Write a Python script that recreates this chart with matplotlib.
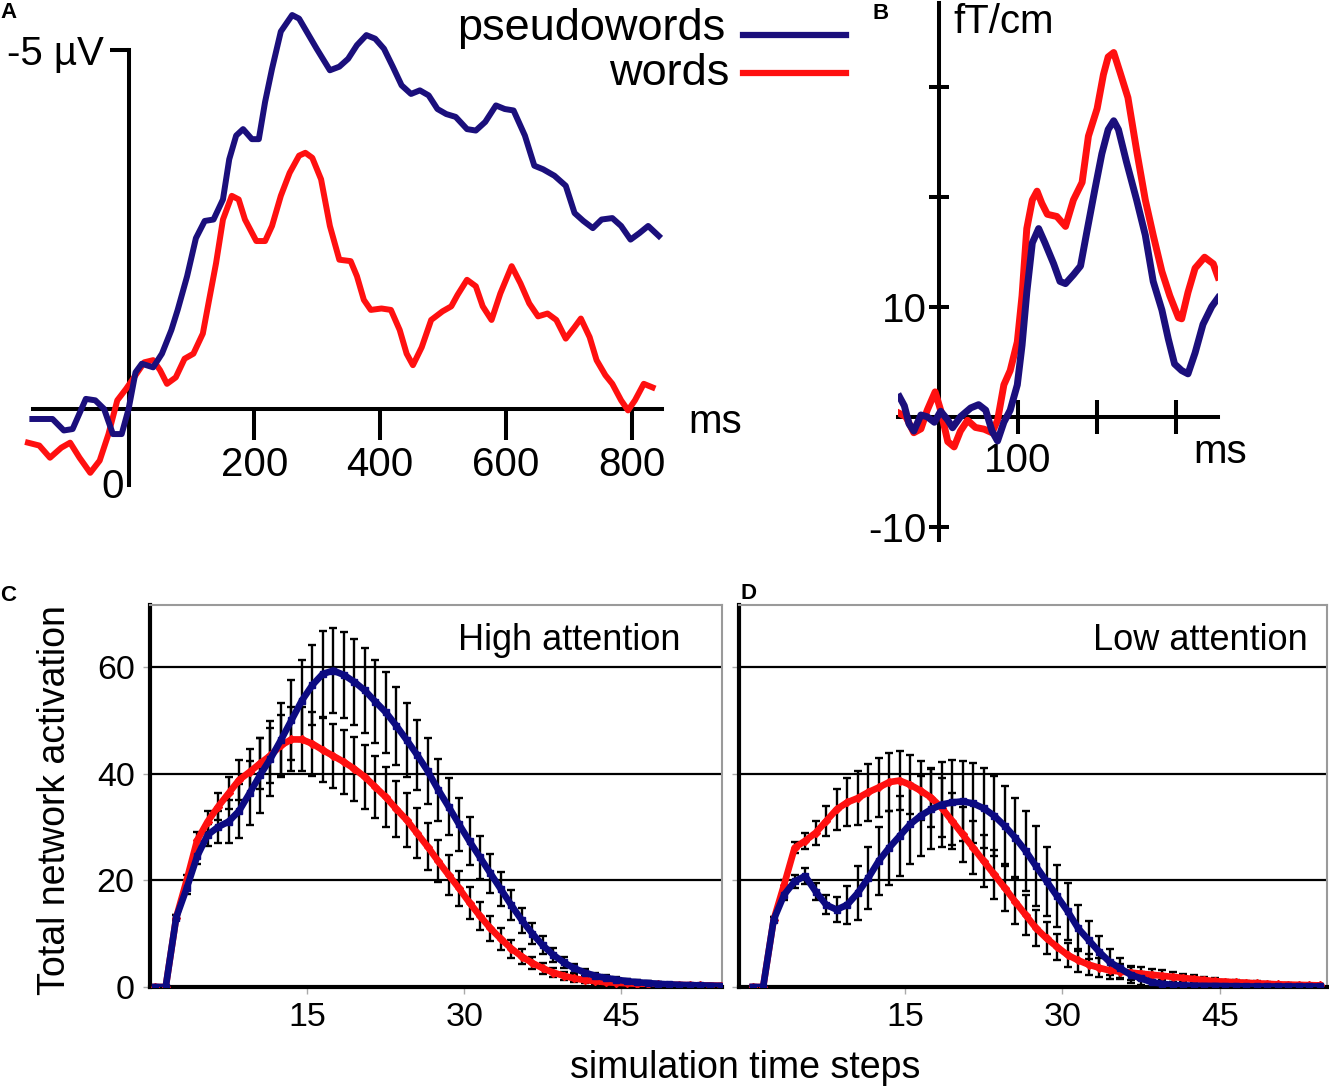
import numpy as np
import matplotlib
matplotlib.use('Agg')
import matplotlib.pyplot as plt
from matplotlib.lines import Line2D

plt.rcParams['font.family'] = ['Liberation Sans', 'DejaVu Sans']

W, H = 1329, 1091
BLUE = '#1b0f7c'
NAVY = '#0c0a82'
RED = '#ff1010'

# ---- panel A: ERP (uV, negative plotted up)
erp_pseudo_ms = [-153, -121, -103, -89, -68, -53, -39, -25, -11, 0,
                 11, 21, 39, 53, 68, 78, 93, 107, 121, 135,
                 150, 160, 171, 182, 196, 207, 217, 228, 242, 260,
                 271, 285, 299, 320, 335, 349, 363, 378, 392, 406,
                 420, 434, 449, 463, 477, 491, 505, 520, 538, 552,
                 567, 584, 598, 612, 630, 645, 659, 677, 695, 709,
                 723, 738, 752, 769, 783, 798, 812, 826, 843]
erp_pseudo = [0.14, 0.14, 0.30, 0.28, -0.14, -0.12, 0.0, 0.35, 0.35, 0.0,
              -0.51, -0.63, -0.58, -0.77, -1.10, -1.38, -1.85, -2.38, -2.62, -2.64,
              -2.92, -3.48, -3.81, -3.90, -3.76, -3.76, -4.28, -4.74, -5.26, -5.49,
              -5.44, -5.23, -5.02, -4.72, -4.77, -4.88, -5.07, -5.21, -5.16, -5.02,
              -4.77, -4.51, -4.39, -4.44, -4.37, -4.18, -4.11, -4.07, -3.90, -3.88,
              -4.00, -4.23, -4.18, -4.16, -3.81, -3.39, -3.34, -3.25, -3.11, -2.73,
              -2.62, -2.52, -2.64, -2.66, -2.55, -2.36, -2.45, -2.55, -2.41]
erp_words_ms = [-160, -142, -125, -107, -93, -78, -61, -46, -32, -18,
                -4, 11, 25, 39, 50, 61, 75, 89, 103, 118,
                128, 139, 150, 164, 175, 185, 203, 217, 228, 242,
                256, 271, 281, 292, 306, 320, 335, 353, 363, 374,
                385, 402, 417, 431, 442, 452, 466, 481, 499, 513,
                523, 538, 552, 563, 577, 591, 609, 623, 637, 651,
                666, 680, 695, 709, 719, 733, 744, 758, 769, 783,
                794, 805, 819, 833]
erp_words = [0.47, 0.51, 0.68, 0.54, 0.47, 0.68, 0.89, 0.72, 0.35, -0.12,
             -0.28, -0.47, -0.65, -0.68, -0.54, -0.35, -0.44, -0.70, -0.77, -1.05,
             -1.52, -2.03, -2.64, -2.97, -2.92, -2.64, -2.34, -2.34, -2.55, -2.97,
             -3.29, -3.53, -3.57, -3.50, -3.20, -2.55, -2.08, -2.06, -1.85, -1.52,
             -1.38, -1.40, -1.38, -1.10, -0.77, -0.61, -0.86, -1.24, -1.36, -1.43,
             -1.59, -1.80, -1.71, -1.43, -1.24, -1.61, -1.99, -1.75, -1.47, -1.29,
             -1.33, -1.24, -0.98, -1.14, -1.26, -1.00, -0.68, -0.47, -0.35, -0.12,
             0.02, -0.12, -0.35, -0.30]
erp_ticks = [200, 400, 600, 800]

# ---- panel B: MEG (fT/cm)
meg_words_ms = [-50, -42, -32, -23, -15, -5, 2, 11, 19, 27,
                36, 46, 57, 67, 74, 82, 90, 99, 105, 111,
                118, 124, 130, 137, 149, 160, 170, 181, 189, 200,
                208, 214, 221, 229, 239, 250, 261, 271, 282, 292,
                303, 307, 315, 324, 336, 347, 353]
meg_words = [0.3, 0, -1.45, -1.1, 0.6, 2.26, 0.6, -2.26, -2.74, -1.3,
             -0.32, -0.97, -1.13, -1.45, -0.32, 2.9, 4.2, 6.8, 11, 17.1,
             19.7, 20.5, 19.4, 18.4, 18.2, 17.3, 19.7, 21.3, 25.5, 28,
             31.1, 32.7, 33.1, 31.3, 29, 24.2, 19.7, 16.5, 13.2, 11,
             9, 8.9, 11.3, 13.5, 14.5, 13.9, 12.7]
meg_pseudo_ms = [-50, -44, -38, -32, -23, -15, -6, 2, 11, 17,
                 27, 40, 50, 59, 67, 74, 82, 90, 99, 105,
                 111, 118, 126, 134, 145, 153, 160, 170, 179, 187,
                 197, 206, 214, 221, 227, 237, 250, 261, 271, 282,
                 290, 298, 307, 315, 324, 334, 345, 353]
meg_pseudo = [1.8, 1, -0.65, -1.3, 0.16, 0, -0.5, 0.5, -0.3, -1,
              0, 0.8, 1.1, 0.6, -1.3, -2.2, -0.5, 0.6, 2.9, 6.5,
              11.3, 15.8, 17.1, 15.8, 13.9, 12.3, 12.1, 12.9, 13.7, 16.8,
              20.6, 23.9, 26.1, 26.9, 26.1, 23.2, 19.7, 16.5, 12.3, 9.7,
              7.1, 4.8, 4.2, 3.9, 5.8, 8.4, 10, 10.8]

# ---- panels C, D: network simulation
steps = np.arange(0.5, 55)
hi_pseudo = [0, 0, 13, 18.5, 24.5, 28.5, 30, 31, 33, 36.3,
             39.7, 42.8, 46.3, 50, 53.7, 56.6, 58.7, 59.3, 58.5, 57.2,
             55.6, 53.5, 51.5, 49, 46.3, 43.5, 40.5, 37, 33.8, 30.5,
             27.3, 24.3, 21.3, 18.3, 15.3, 12.5, 10, 7.8, 6, 4.6,
             3.5, 2.7, 2.1, 1.7, 1.4, 1.1, 0.9, 0.75, 0.6, 0.5,
             0.4, 0.35, 0.3, 0.25, 0.2]
hi_pseudo_err = [0, 0, 0.5, 1, 1.5, 2, 3, 4, 5, 6,
                 7, 7, 7, 7.5, 7.5, 7.5, 8, 8, 8, 8,
                 8, 7.8, 7.6, 7.3, 7, 6.6, 6.2, 5.8, 5.4, 5,
                 4.5, 4, 3.6, 3.2, 2.8, 2.4, 2, 1.7, 1.4, 1.1,
                 0.9, 0.7, 0.6, 0.5, 0.45, 0.4, 0.35, 0.3, 0.3, 0.25,
                 0.25, 0.2, 0.2, 0.2, 0.2]
hi_words = [0, 0, 13, 20, 27.5, 31, 33.8, 36.3, 38.8, 40.3,
            41.9, 43.4, 45.3, 46.4, 46.4, 45.6, 44.4, 43.3, 42.2, 40.9,
            39.4, 37.5, 35.6, 33.4, 31.3, 28.8, 26.3, 23.6, 21, 18.5,
            15.8, 13.3, 11, 9, 7.2, 5.7, 4.5, 3.5, 2.7, 2.1,
            1.6, 1.3, 1.1, 0.9, 0.8, 0.7, 0.6, 0.55, 0.5, 0.45,
            0.4, 0.35, 0.3, 0.28, 0.25]
hi_words_err = [0, 0, 0.5, 1, 1.5, 2, 2.5, 3, 3.8, 4.3,
                4.8, 5.2, 5.6, 6, 6, 6, 6, 6, 6, 6,
                6, 5.8, 5.6, 5.3, 5, 4.7, 4.4, 4, 3.7, 3.3,
                3, 2.6, 2.3, 2, 1.7, 1.4, 1.2, 1, 0.9, 0.8,
                0.7, 0.6, 0.5, 0.45, 0.4, 0.35, 0.3, 0.3, 0.25, 0.25,
                0.2, 0.2, 0.2, 0.2, 0.2]
lo_pseudo = [0, 0, 12.6, 17.3, 19.8, 20.8, 17.9, 15.4, 14.5, 15.4,
             17.6, 20.4, 23.6, 26.1, 28.3, 30.5, 32.1, 33.3, 34.2, 34.6,
             34.8, 34.4, 33.5, 32.1, 30.2, 28, 25.5, 22.6, 19.8, 17,
             14.2, 11, 8.8, 6.6, 4.7, 3.5, 2.3, 1.6, 0.9, 0.6,
             0.4, 0.3, 0.25, 0.2, 0.2, 0.15, 0.15, 0.1, 0.1, 0.1,
             0.1, 0.1, 0.1, 0.1, 0.1]
lo_pseudo_err = [0, 0, 0.5, 1, 1.2, 1.5, 1.5, 1.8, 2.3, 3.6,
                 5, 5.8, 6.4, 6.9, 7.5, 7.5, 7.5, 7.5, 8, 8,
                 7.5, 7.5, 7.5, 7.5, 7.5, 7.4, 7.5, 7.5, 6.5, 5.8,
                 5.3, 4.3, 3.6, 3, 2.4, 1.9, 1.5, 1.2, 1, 0.8,
                 0.6, 0.5, 0.4, 0.35, 0.3, 0.3, 0.25, 0.25, 0.2, 0.2,
                 0.2, 0.2, 0.2, 0.2, 0.2]
lo_words = [0, 0, 12.6, 19.2, 26.1, 27.4, 28.9, 31.1, 33.3, 34.6,
            35.4, 36.5, 37.4, 38.4, 38.7, 37.9, 36.8, 35.5, 33.6, 31.1,
            28.6, 26.1, 23.6, 21.1, 18.6, 16, 13.5, 11, 9.1, 7.5,
            6, 5, 4.2, 3.6, 3.1, 2.9, 2.7, 2.5, 2.3, 2.1,
            1.9, 1.7, 1.5, 1.3, 1.1, 1.0, 0.9, 0.8, 0.7, 0.6,
            0.5, 0.45, 0.4, 0.35, 0.3]
lo_words_err = [0, 0, 0.5, 0.8, 1, 1.5, 2.3, 2.8, 3.8, 4.5,
                5, 5.3, 5.5, 5.5, 5.5, 5.5, 5.5, 5.5, 5.5, 5.3,
                5.2, 5, 4.8, 4.6, 4.4, 4.2, 3.8, 3.4, 3, 2.5,
                2.3, 2.2, 2, 1.8, 1.6, 1.4, 1.3, 1.2, 1.1, 1,
                0.9, 0.8, 0.7, 0.6, 0.5, 0.4, 0.4, 0.35, 0.35, 0.3,
                0.3, 0.3, 0.25, 0.25, 0.2]
sim_yticks = [0, 20, 40, 60]
sim_xticks = [15, 30, 45]

fig = plt.figure(figsize=(W / 100, H / 100), dpi=100)


def px_axes(x0, y0, x1, y1):
    return fig.add_axes([x0 / W, 1 - y1 / H, (x1 - x0) / W, (y1 - y0) / H])


def px_text(x, y, s, **kw):
    return fig.text(x / W, 1 - y / H, s, **kw)


def cross_axes(ax):
    ax.patch.set_visible(False)
    for s in ('top', 'right'):
        ax.spines[s].set_visible(False)
    for s in ('left', 'bottom'):
        ax.spines[s].set_position(('data', 0))
        ax.spines[s].set_linewidth(2.9)


# ---- A
axA = px_axes(33, 10, 662, 485)
axA.plot(erp_words_ms, erp_words, color=RED, lw=4.3, zorder=3, clip_on=False)
axA.plot(erp_pseudo_ms, erp_pseudo, color=BLUE, lw=4.3, zorder=4, clip_on=False)
axA.set_xlim(-152, 848)
axA.set_ylim(1.06, -5.56)
cross_axes(axA)
axA.spines['left'].set_bounds(-5, 1.06)
axA.set_xticks(erp_ticks)
axA.set_yticks([-5], ['-5 µV'])
axA.tick_params(axis='x', direction='out', length=22, width=2.9, labelsize=29, pad=5)
axA.tick_params(axis='y', direction='out', length=14, width=2.9, labelsize=29, pad=4)
px_text(113, 487, '0', ha='center', va='center', fontsize=29)
px_text(715, 422, 'ms', ha='center', va='center', fontsize=29)

px_text(725, 40, 'pseudowords', ha='right', va='baseline', fontsize=32.5)
px_text(729, 85, 'words', ha='right', va='baseline', fontsize=32.5)
fig.add_artist(Line2D([743 / W, 846 / W], [1 - 35 / H] * 2, color=BLUE, lw=4.5))
fig.add_artist(Line2D([743 / W, 846 / W], [1 - 73 / H] * 2, color=RED, lw=4.5))

# ---- B
axB = px_axes(898, 3, 1218, 540)
axB.plot(meg_words_ms, meg_words, color=RED, lw=5, zorder=3)
axB.plot(meg_pseudo_ms, meg_pseudo, color=BLUE, lw=5, zorder=4)
axB.set_xlim(-52, 353)
axB.set_ylim(-11.2, 37.6)
cross_axes(axB)
axB.set_xticks([100, 200, 300], ['100', '', ''])
axB.set_yticks([-10, 10, 20, 30], ['-10', '10', '', ''])
axB.tick_params(axis='x', direction='inout', length=24, width=2.9, labelsize=29, pad=6)
axB.tick_params(axis='y', direction='inout', length=14, width=2.9, labelsize=29, pad=2)
px_text(953, 22, 'fT/cm', ha='left', va='center', fontsize=29)
px_text(1220, 452, 'ms', ha='center', va='center', fontsize=29)


# ---- C, D
def sim_panel(ax, words, words_err, pseudo, pseudo_err):
    words, words_err = np.asarray(words), np.asarray(words_err)
    pseudo, pseudo_err = np.asarray(pseudo), np.asarray(pseudo_err)
    for vals, err in ((words, words_err), (pseudo, pseudo_err)):
        ax.errorbar(steps[2:], vals[2:], yerr=err[2:], fmt='none', ecolor='black',
                    elinewidth=1.7, capsize=3, capthick=1.7, zorder=2)
    ax.plot(steps, words, color=RED, lw=4.8, marker='D', ms=4, zorder=3)
    ax.plot(steps, pseudo, color=NAVY, lw=4.8, marker='s', ms=4, zorder=4)
    ax.set_ylim(0, 71.6)
    ax.set_yticks(sim_yticks)
    ax.set_xticks(sim_xticks)
    ax.grid(axis='y', color='black', lw=1.6)
    ax.set_axisbelow(True)
    for s in ('left', 'bottom'):
        ax.spines[s].set_linewidth(3)
        ax.spines[s].set_color('black')
    for s in ('top', 'right'):
        ax.spines[s].set_linewidth(1.5)
        ax.spines[s].set_color('#9a9a9a')
    ax.tick_params(length=5, width=1, color='#aaaaaa', labelsize=24.5, pad=6)


axC = px_axes(150, 605, 722, 987)
sim_panel(axC, hi_words, hi_words_err, hi_pseudo, hi_pseudo_err)
axC.set_xlim(0, 54.6)

axD = px_axes(739, 605, 1327, 987)
sim_panel(axD, lo_words, lo_words_err, lo_pseudo, lo_pseudo_err)
axD.set_xlim(-0.8, 55.2)
axD.tick_params(labelleft=False)

px_text(681, 641, 'High attention', ha='right', va='center', fontsize=26)
px_text(1308, 641, 'Low attention', ha='right', va='center', fontsize=26)
px_text(55, 800, 'Total network activation', rotation=90, ha='center', va='center', fontsize=27)
px_text(745, 1068, 'simulation time steps', ha='center', va='center', fontsize=27)

for lab, x, y in (('A', 0, 2), ('B', 873, 3), ('C', 0, 585), ('D', 740, 583)):
    px_text(x, y, lab, ha='left', va='top', fontsize=16, weight='bold')

fig.savefig('out.png', dpi=100)
